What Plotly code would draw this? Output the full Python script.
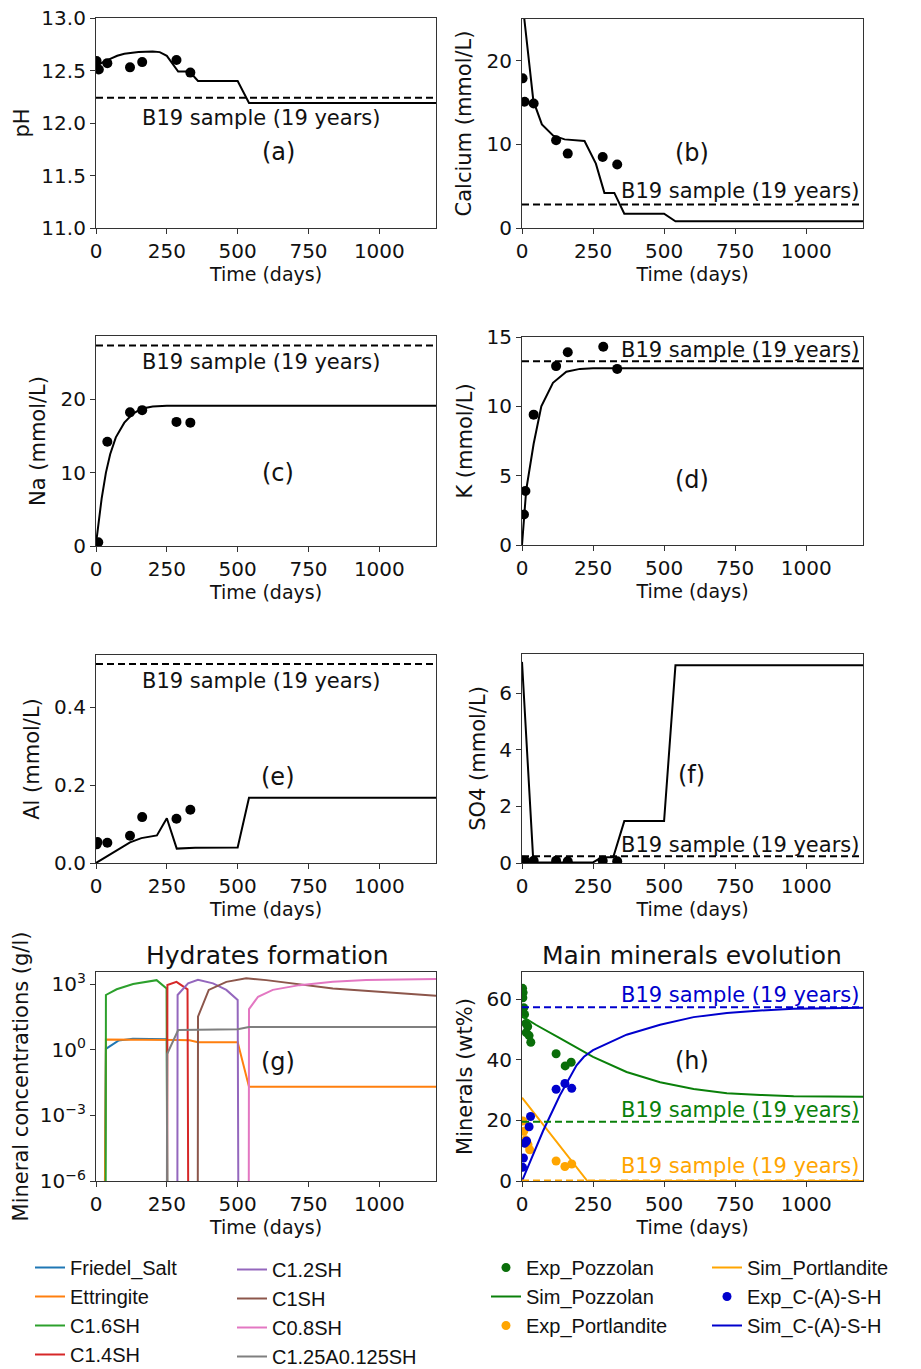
import plotly.graph_objects as go

W, H = 921, 1369

# ------------------------------------------------------------------ data
time_ticks = [0, 250, 500, 750, 1000]
t_range = [0, 1200]
ref_label = "B19 sample (19 years)"

# (a) pH
ph_exp_t = [2, 10, 40, 120, 163, 284, 333]
ph_exp = [12.59, 12.51, 12.57, 12.53, 12.58, 12.60, 12.48]
ph_sim_t = [0, 25, 50, 75, 100, 150, 200, 225, 250, 275, 290, 330, 360, 500, 540, 1200]
ph_sim = [12.54, 12.58, 12.61, 12.64, 12.66, 12.675, 12.68, 12.675, 12.64, 12.55, 12.49, 12.49, 12.40, 12.40, 12.19, 12.19]
ph_ref = 12.24

# (b) Calcium
ca_exp_t = [2, 9, 41, 120, 161, 284, 335]
ca_exp = [17.9, 15.1, 14.9, 10.5, 8.9, 8.5, 7.6]
ca_sim_t = [0, 40, 70, 110, 150, 220, 260, 290, 325, 360, 500, 540, 1200]
ca_sim = [27.5, 15.2, 12.4, 11.05, 10.6, 10.4, 7.7, 4.2, 4.2, 1.7, 1.7, 0.8, 0.8]
ca_ref = 2.8

# (c) Na
na_exp_t = [8, 40, 120, 163, 284, 333]
na_exp = [0.5, 14.2, 18.2, 18.5, 16.9, 16.8]
na_sim_t = [0, 10, 20, 35, 50, 70, 100, 130, 160, 200, 250, 1200]
na_sim = [0.3, 3.5, 6.5, 10.0, 12.5, 14.8, 16.8, 18.0, 18.7, 19.0, 19.1, 19.1]
na_ref = 27.3

# (d) K
k_exp_t = [7, 12, 41, 120, 161, 286, 335]
k_exp = [2.2, 3.9, 9.4, 12.9, 13.9, 14.3, 12.7]
k_sim_t = [0, 15, 41, 68, 109, 156, 204, 250, 1200]
k_sim = [0.0, 4.0, 7.3, 10.0, 11.7, 12.5, 12.7, 12.75, 12.75]
k_ref = 13.25

# (e) Al
al_exp_t = [2, 5, 40, 120, 163, 284, 333]
al_exp = [0.048, 0.054, 0.052, 0.070, 0.118, 0.114, 0.137]
al_sim_t = [0, 60, 120, 160, 215, 250, 285, 350, 500, 540, 1200]
al_sim = [0.0, 0.027, 0.053, 0.064, 0.071, 0.115, 0.037, 0.039, 0.040, 0.168, 0.168]
al_ref = 0.512

# (f) SO4
so4_exp_t = [3, 10, 41, 120, 161, 284, 335]
so4_exp = [0.08, 0.08, 0.08, 0.08, 0.06, 0.08, 0.06]
so4_sim_t = [0, 40, 250, 280, 321, 360, 500, 540, 1200]
so4_sim = [7.1, 0.02, 0.02, 0.2, 0.2, 1.48, 1.48, 6.98, 6.98]
so4_ref = 0.24

# (g) hydrates (g/l); 1e-9 = not present
friedel_t = [0, 30, 35, 79, 130, 250, 252, 1200]
friedel = [1e-9, 1e-9, 1.1, 2.6, 3.2, 3.0, 1e-9, 1e-9]
ettringite_t = [0, 30, 35, 250, 290, 330, 360, 500, 540, 1200]
ettringite = [1e-9, 1e-9, 2.95, 2.95, 2.8, 2.7, 2.2, 2.2, 0.02, 0.02]
c16sh_t = [0, 34, 35, 73, 131, 214, 249, 252, 1200]
c16sh = [1e-9, 1e-9, 316, 575, 1000, 1500, 630, 1e-9, 1e-9]
c14sh_t = [0, 251, 252, 284, 323, 326, 1200]
c14sh = [1e-9, 1e-9, 900, 1250, 575, 1e-9, 1e-9]
c12sh_t = [0, 287, 288, 325, 360, 413, 460, 500, 503, 1200]
c12sh = [1e-9, 1e-9, 316, 1070, 1580, 1070, 540, 186, 1e-9, 1e-9]
c1sh_t = [0, 359, 360, 398, 460, 530, 601, 836, 1200]
c1sh = [1e-9, 1e-9, 32, 540, 1260, 1820, 1510, 630, 295]
c08sh_t = [0, 539, 540, 572, 624, 718, 836, 953, 1200]
c08sh = [1e-9, 1e-9, 72, 263, 540, 890, 1260, 1510, 1700]
c125sh_t = [0, 250, 251, 290, 500, 540, 1200]
c125sh = [1e-9, 1e-9, 0.63, 7.9, 8.5, 11.0, 11.0]
log_ticks = [1e-6, 1e-3, 1, 1e3]
log_tick_text = ["10<sup>−6</sup>", "10<sup>−3</sup>", "10<sup>0</sup>", "10<sup>3</sup>"]

# (h) main minerals (wt%)
pozz_exp_t = [2, 4, 3, 6, 9, 14, 20, 15, 25, 31, 120, 152, 173]
pozz_exp = [63.6, 62.2, 60.5, 57.2, 55.0, 52.0, 51.0, 49.0, 48.0, 45.8, 42.0, 38.0, 39.2]
pozz_sim_t = [0, 50, 133, 250, 368, 486, 604, 721, 839, 956, 1200]
pozz_sim = [54.4, 51.5, 47.2, 41.0, 36.0, 32.6, 30.4, 29.0, 28.4, 28.0, 27.8]
port_exp_t = [3, 6, 12, 21, 27, 120, 151, 175]
port_exp = [19.8, 16.4, 13.6, 12.0, 10.3, 6.6, 4.8, 5.6]
port_sim_t = [0, 50, 100, 150, 200, 230, 1200]
port_sim = [27.5, 21.5, 15.5, 9.5, 3.5, 0.0, 0.0]
csh_exp_t = [2, 5, 10, 16, 25, 30, 120, 151, 175]
csh_exp = [4.5, 7.6, 12.5, 13.2, 17.9, 21.3, 30.3, 32.2, 30.6]
csh_sim_t = [0, 74, 133, 192, 218, 250, 368, 486, 604, 721, 839, 956, 1200]
csh_sim = [0.0, 16.5, 28.2, 38.2, 41.0, 43.2, 48.3, 51.6, 54.1, 55.5, 56.3, 56.9, 57.2]
csh_ref = 57.4
pozz_ref = 19.6
port_ref = 0.2

# ------------------------------------------------------------------ style
FONT = "DejaVu Sans"
AX = "#333333"
TAB = {"blue": "#1f77b4", "orange": "#ff7f0e", "green": "#2ca02c", "red": "#d62728",
       "purple": "#9467bd", "brown": "#8c564b", "pink": "#e377c2", "gray": "#7f7f7f"}
GREEN, DGREEN, BLUE, ORANGE = "#0a800a", "#0a6e0a", "#0000cd", "#ffa500"

# panel boxes in px: left, top, right, bottom
boxes = {
    1: (96, 18, 436, 228),
    2: (522, 19, 863, 228),
    3: (96, 336, 436, 546),
    4: (522, 337, 863, 545),
    5: (96, 655, 436, 863),
    6: (522, 654, 863, 863),
    7: (96, 972, 436, 1181),
    8: (522, 972, 863, 1181),
}

fig = go.Figure()


def ax(i):
    return ("x" if i == 1 else f"x{i}"), ("y" if i == 1 else f"y{i}")


def add_line(i, x, y, color="black", dash=None, name=None, legend=None, width=2):
    xa, ya = ax(i)
    fig.add_trace(go.Scatter(x=x, y=y, mode="lines", xaxis=xa, yaxis=ya,
                             line=dict(color=color, width=width, dash=dash),
                             name=name, showlegend=legend is not None,
                             legend=legend or "legend", hoverinfo="skip"))


def add_dots(i, x, y, color="black", size=10, name=None, legend=None):
    xa, ya = ax(i)
    fig.add_trace(go.Scatter(x=x, y=y, mode="markers", xaxis=xa, yaxis=ya,
                             marker=dict(color=color, size=size),
                             name=name, showlegend=legend is not None,
                             legend=legend or "legend", hoverinfo="skip"))


DASH = "7px,4px"

# (a)-(f)
panels = [
    (1, ph_exp_t, ph_exp, ph_sim_t, ph_sim, ph_ref),
    (2, ca_exp_t, ca_exp, ca_sim_t, ca_sim, ca_ref),
    (3, na_exp_t, na_exp, na_sim_t, na_sim, na_ref),
    (4, k_exp_t, k_exp, k_sim_t, k_sim, k_ref),
    (5, al_exp_t, al_exp, al_sim_t, al_sim, al_ref),
    (6, so4_exp_t, so4_exp, so4_sim_t, so4_sim, so4_ref),
]
for i, et, ev, st, sv, ref in panels:
    add_line(i, st, sv)
    add_dots(i, et, ev)
    add_line(i, t_range, [ref, ref], dash=DASH)

# (g)
g_series = [
    ("Friedel_Salt", friedel_t, friedel, TAB["blue"], "legend"),
    ("Ettringite", ettringite_t, ettringite, TAB["orange"], "legend"),
    ("C1.6SH", c16sh_t, c16sh, TAB["green"], "legend"),
    ("C1.4SH", c14sh_t, c14sh, TAB["red"], "legend"),
    ("C1.2SH", c12sh_t, c12sh, TAB["purple"], "legend2"),
    ("C1SH", c1sh_t, c1sh, TAB["brown"], "legend2"),
    ("C0.8SH", c08sh_t, c08sh, TAB["pink"], "legend2"),
    ("C1.25A0.125SH", c125sh_t, c125sh, TAB["gray"], "legend2"),
]
for name, t, v, c, lg in g_series:
    add_line(7, t, v, color=c, name=name, legend=lg)

# (h)
add_dots(8, pozz_exp_t, pozz_exp, color=DGREEN, size=9, name="Exp_Pozzolan", legend="legend3")
add_line(8, pozz_sim_t, pozz_sim, color=GREEN, name="Sim_Pozzolan", legend="legend3")
add_dots(8, port_exp_t, port_exp, color=ORANGE, size=9, name="Exp_Portlandite", legend="legend3")
add_line(8, port_sim_t, port_sim, color=ORANGE, name="Sim_Portlandite", legend="legend4")
add_dots(8, csh_exp_t, csh_exp, color=BLUE, size=9, name="Exp_C-(A)-S-H", legend="legend4")
add_line(8, csh_sim_t, csh_sim, color=BLUE, name="Sim_C-(A)-S-H", legend="legend4")
add_line(8, t_range, [csh_ref, csh_ref], color=BLUE, dash=DASH)
add_line(8, t_range, [pozz_ref, pozz_ref], color=GREEN, dash=DASH)
add_line(8, t_range, [port_ref, port_ref], color=ORANGE, dash=DASH)

# ------------------------------------------------------------------ axes
y_specs = {
    1: dict(title="pH", range=[11, 13], tickvals=[11, 11.5, 12, 12.5, 13], tickformat=".1f", standoff=6),
    2: dict(title="Calcium (mmol/L)", range=[0, 25], tickvals=[0, 10, 20], standoff=9),
    3: dict(title="Na (mmol/L)", range=[0, 28.6], tickvals=[0, 10, 20], standoff=9),
    4: dict(title="K (mmol/L)", range=[0, 15], tickvals=[0, 5, 10, 15], standoff=8),
    5: dict(title="Al (mmol/L)", range=[0, 0.535], tickvals=[0, 0.2, 0.4], tickformat=".1f", standoff=8),
    6: dict(title="SO4 (mmol/L)", range=[0, 7.38], tickvals=[0, 2, 4, 6], standoff=7),
    7: dict(title="Mineral concentrations (g/l)", type="log", range=[-6, 3.55],
            tickvals=log_ticks, ticktext=log_tick_text, standoff=5),
    8: dict(title="Minerals (wt%)", range=[0, 69], tickvals=[0, 20, 40, 60], standoff=8),
}

common = dict(showline=True, mirror=True, linecolor=AX, linewidth=1.2, ticks="outside",
              ticklen=5, tickwidth=1.2, tickcolor=AX, showgrid=False, zeroline=False,
              automargin=False, tickfont=dict(family=FONT, size=20, color="#111"))

layout_axes = {}
for i, (l, t, r, b) in boxes.items():
    xname = "xaxis" if i == 1 else f"xaxis{i}"
    yname = "yaxis" if i == 1 else f"yaxis{i}"
    xa, ya = ax(i)
    layout_axes[xname] = dict(common, domain=[l / W, r / W], anchor=ya, range=t_range,
                              tickvals=time_ticks,
                              title=dict(text="Time (days)", standoff=2,
                                         font=dict(family=FONT, size=19, color="#111")))
    s = y_specs[i]
    yd = dict(common, domain=[1 - b / H, 1 - t / H], anchor=xa, range=s["range"],
              tickvals=s["tickvals"],
              title=dict(text=s["title"], standoff=s["standoff"],
                         font=dict(family=FONT, size=21, color="#111")))
    if "tickformat" in s:
        yd["tickformat"] = s["tickformat"]
    if "type" in s:
        yd["type"] = s["type"]
        yd["ticktext"] = s["ticktext"]
    layout_axes[yname] = yd

fig.update_layout(**layout_axes)

# ------------------------------------------------------------------ annotations
def note(i, x, y, text, size=21, color="#111", xanchor="center"):
    xa, ya = ax(i)
    fig.add_annotation(x=x, y=y, xref=xa, yref=ya, text=text, showarrow=False,
                       xanchor=xanchor, yanchor="middle",
                       font=dict(family=FONT, size=size, color=color))

note(1, 581, 12.05, ref_label)
note(1, 644, 11.72, "(a)", size=24)
note(2, 1192, 4.4, ref_label, xanchor="right")
note(2, 598, 9.0, "(b)", size=24)
note(3, 581, 25.0, ref_label)
note(3, 644, 10.0, "(c)", size=24)
note(4, 1192, 14.06, ref_label, xanchor="right")
note(4, 598, 4.7, "(d)", size=24)
note(5, 581, 0.469, ref_label)
note(5, 644, 0.22, "(e)", size=24)
note(6, 1192, 0.64, ref_label, xanchor="right")
note(6, 598, 3.1, "(f)", size=24)
note(7, 644, -0.55, "(g)", size=24)
note(8, 598, 39.7, "(h)", size=24)
note(8, 1192, 61.3, ref_label, color=BLUE, xanchor="right")
note(8, 1192, 23.5, ref_label, color=GREEN, xanchor="right")
note(8, 1192, 5.0, ref_label, color=ORANGE, xanchor="right")

for text, xc in [("Hydrates formation", 267), ("Main minerals evolution", 692)]:
    fig.add_annotation(x=xc / W, y=1 - 955 / H, xref="paper", yref="paper", text=text,
                       showarrow=False, xanchor="center", yanchor="middle",
                       font=dict(family=FONT, size=25, color="#111"))

# ------------------------------------------------------------------ legends
LEG_FONT = dict(family="Liberation Sans", size=20, color="#111")


def leg(xpx, ypx):
    return dict(x=xpx / W, y=1 - ypx / H, xanchor="left", yanchor="top",
                bgcolor="rgba(0,0,0,0)", borderwidth=0, font=LEG_FONT,
                orientation="v", tracegroupgap=0, itemclick=False, itemdoubleclick=False)

fig.update_layout(
    width=W, height=H, margin=dict(l=0, r=0, t=0, b=0, autoexpand=False),
    paper_bgcolor="white", plot_bgcolor="white",
    font=dict(family=FONT, color="#111"),
    legend=leg(30, 1248),
    legend2=leg(232, 1250),
    legend3=leg(486, 1248),
    legend4=leg(707, 1248),
)

fig.write_html("out.html")
